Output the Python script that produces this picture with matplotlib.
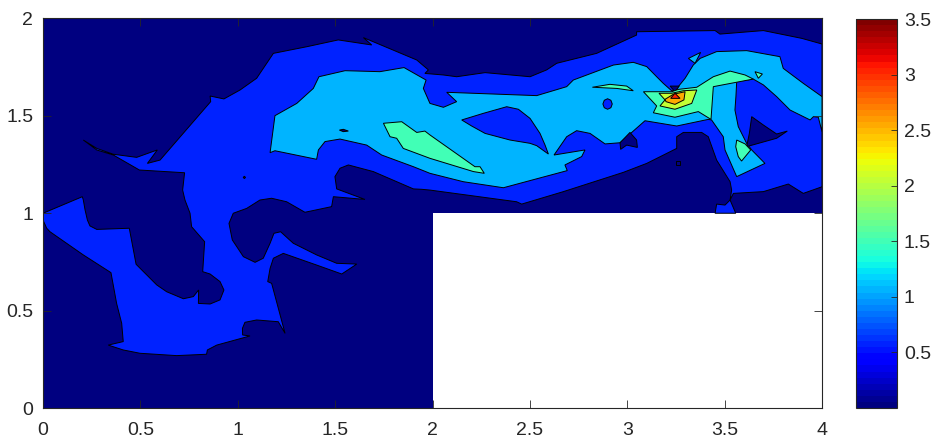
import matplotlib
matplotlib.use("Agg")
import matplotlib.pyplot as plt
from matplotlib.cm import ScalarMappable
from matplotlib.colors import Normalize

plt.rcParams["font.family"] = ["Liberation Sans", "DejaVu Sans"]

# contour outlines, in data units (x, y)
domain = [(0, 0), (2, 0), (2, 1), (4, 1), (4, 2), (0, 2)]

blue_main = [
    (0, 1), (.202, 1.085), (.207, 1.068), (.216, 1.017), (.228, .965), (.241, .935), (.276, .917),
    (.443, .923), (.478, .738), (.584, .632), (.635, .597), (.721, .561), (.772, .572), (.799, .606),
    (.798, .537), (.858, .534), (.909, .555), (.929, .606), (.909, .649), (.858, .688), (.820, .700),
    (.830, .854), (.763, .931), (.755, 1.0), (.729, 1.068), (.717, 1.119),
    (.727, 1.208), (.495, 1.222), (.361, 1.299), (.276, 1.325), (.207, 1.376), (.276, 1.333),
    (.361, 1.303), (.481, 1.287), (.587, 1.325), (.536, 1.256), (.601, 1.273), (.861, 1.573),
    (.858, 1.602), (.929, 1.587), (1.012, 1.633), (1.097, 1.693), (1.183, 1.821), (1.354, 1.855),
    (1.516, 1.890), (1.688, 1.864),
    (1.645, 1.902), (1.919, 1.787), (1.979, 1.736), (1.961, 1.718), (2.056, 1.710), (2.124, 1.701),
    (2.270, 1.722), (2.501, 1.701), (2.586, 1.736), (2.638, 1.770), (2.843, 1.821), (3.048, 1.915),
    (3.048, 1.932), (3.451, 1.938), (3.476, 1.920), (3.699, 1.938), (3.896, 1.898), (4, 1.869),
    (4, 1.136), (3.904, 1.102), (3.827, 1.150), (3.699, 1.111), (3.545, 1.102), (3.528, 1.068),
    (3.536, 1.119), (3.528, 1.162), (3.459, 1.273), (3.416, 1.393), (3.382, 1.415), (3.288, 1.415),
    (3.254, 1.393), (3.254, 1.333),
    (3.100, 1.256), (2.980, 1.210), (2.672, 1.111), (2.458, 1.047), (2.432, 1.059), (1.987, 1.119),
    (1.944, 1.123), (1.902, 1.125), (1.696, 1.214), (1.568, 1.248), (1.525, 1.231), (1.499, 1.188),
    (1.508, 1.125),
    (1.653, 1.071), (1.491, 1.085), (1.482, 1.034), (1.345, 1.005), (1.251, 1.059), (1.174, 1.077),
    (1.114, 1.068), (1.046, 1.025), (.977, 1.0), (.955, .948), (.972, .863), (1.029, .777),
    (1.089, .748), (1.131, .769), (1.166, .846), (1.186, .897), (1.220, .905), (1.285, .846),
    (1.405, .786), (1.508, .743), (1.611, .739), (1.534, .688), (1.405, .734), (1.234, .794),
    (1.183, .769), (1.166, .717),
    (1.154, .649), (1.174, .640), (1.243, .383), (1.208, .443), (1.097, .452), (1.037, .440),
    (1.024, .409), (1.025, .375), (1.063, .370), (.892, .323), (.844, .298), (.840, .276),
    (.686, .269), (.498, .281), (.412, .298), (.335, .323), (.412, .341), (.404, .435), (.378, .537),
    (.349, .695), (.207, .786), (.036, .905), (.019, .923), (0, .965),
]
blue_notch = [(3.528, 1.068), (3.502, 1.042), (3.459, 1.047), (3.451, 1.0), (3.557, 1.0)]

azure_main = [
    (1.166, 1.311), (1.191, 1.501), (1.303, 1.564), (1.388, 1.641), (1.417, 1.701), (1.551, 1.732),
    (1.730, 1.727), (1.854, 1.748), (1.967, 1.684), (1.953, 1.641), (1.979, 1.582), (1.987, 1.564),
    (2.056, 1.544), (2.124, 1.573), (2.073, 1.621), (2.535, 1.604), (2.689, 1.650), (2.723, 1.684),
    (2.929, 1.761), (3.031, 1.775), (3.100, 1.753), (3.151, 1.701), (3.185, 1.667), (3.228, 1.629),
    (3.245, 1.629), (3.297, 1.693), (3.339, 1.761), (3.374, 1.795),
    (3.459, 1.830), (3.613, 1.835), (3.784, 1.804), (3.801, 1.744), (3.904, 1.667), (4, 1.599),
    (4, 1.419), (3.981, 1.493), (3.956, 1.496), (3.939, 1.479), (3.836, 1.530), (3.767, 1.599),
    (3.699, 1.659), (3.647, 1.689), (3.562, 1.676), (3.558, 1.599), (3.553, 1.530), (3.570, 1.445),
    (3.613, 1.359), (3.639, 1.325),
    (3.707, 1.256), (3.562, 1.188), (3.502, 1.325), (3.493, 1.393), (3.433, 1.479), (3.416, 1.482),
    (3.254, 1.448), (3.091, 1.475), (2.963, 1.362), (2.886, 1.356), (2.809, 1.410), (2.740, 1.424),
    (2.689, 1.393), (2.624, 1.299), (2.783, 1.325), (2.766, 1.291), (2.680, 1.248), (2.692, 1.219),
    (2.364, 1.131), (2.158, 1.162), (1.987, 1.205), (1.902, 1.239), (1.739, 1.299), (1.662, 1.350),
    (1.525, 1.381), (1.448, 1.368), (1.414, 1.325), (1.405, 1.277), (1.191, 1.321),
]
azure_speck = [(3.314, 1.795), (3.377, 1.826), (3.348, 1.770)]

blue_lens = [(2.150, 1.479), (2.261, 1.513), (2.381, 1.547), (2.441, 1.534), (2.501, 1.487),
             (2.552, 1.410), (2.578, 1.350), (2.595, 1.304), (2.535, 1.347), (2.501, 1.359),
             (2.398, 1.376), (2.270, 1.410), (2.201, 1.448)]
blue_oval = [(2.875, 1.561), (2.882, 1.580), (2.899, 1.588), (2.916, 1.580), (2.923, 1.561),
             (2.916, 1.542), (2.899, 1.534), (2.882, 1.542)]

navy_wedge = [(2.963, 1.362), (3.014, 1.415), (3.048, 1.376), (3.052, 1.338), (2.997, 1.350), (2.966, 1.328)]
navy_fin = [(3.639, 1.496), (3.699, 1.453), (3.767, 1.407), (3.822, 1.422), (3.767, 1.385),
            (3.613, 1.342), (3.627, 1.410)]
navy_box = [(3.252, 1.246), (3.272, 1.246), (3.272, 1.266), (3.252, 1.266)]
navy_tip = [(3.220, 1.653), (3.267, 1.653), (3.245, 1.624)]
navy_dash = [(1.522, 1.427), (1.542, 1.431), (1.568, 1.422), (1.542, 1.419)]
navy_dot = [(1.028, 1.184), (1.034, 1.190), (1.040, 1.184), (1.034, 1.178)]

green_long = [(1.748, 1.462), (1.842, 1.470), (1.919, 1.415), (1.961, 1.422), (1.987, 1.402),
              (2.218, 1.239), (2.244, 1.239), (2.266, 1.205), (2.210, 1.214), (1.987, 1.282),
              (1.850, 1.333), (1.816, 1.385), (1.782, 1.393)]
green_lens = [(2.821, 1.647), (2.911, 1.662), (2.997, 1.653), (3.031, 1.629), (2.946, 1.641)]
green_peak = [(3.083, 1.624), (3.228, 1.624), (3.262, 1.636), (3.357, 1.647), (3.442, 1.701),
              (3.528, 1.730), (3.605, 1.710), (3.647, 1.689), (3.442, 1.650), (3.430, 1.482),
              (3.365, 1.522), (3.245, 1.493), (3.134, 1.516), (3.151, 1.551)]
green_speck = [(3.656, 1.727), (3.694, 1.715), (3.673, 1.693)]
green_shard = [(3.562, 1.376), (3.605, 1.356), (3.634, 1.325), (3.587, 1.268), (3.570, 1.291), (3.557, 1.342)]

yellow_peak = [(3.163, 1.616), (3.228, 1.616), (3.288, 1.629), (3.357, 1.633), (3.331, 1.564),
               (3.245, 1.534), (3.168, 1.551), (3.194, 1.582)]
orange_peak = [(3.194, 1.585), (3.237, 1.611), (3.297, 1.624), (3.291, 1.582), (3.245, 1.559), (3.199, 1.573)]
red_peak = [(3.223, 1.590), (3.245, 1.616), (3.271, 1.590)]

# colour value of each band
band_navy = 0.0
band_blue = 0.55
band_azure = 1.05
band_green = 1.48
band_yellow = 2.06
band_orange = 2.56
band_red = 3.03

# drawn low to high
regions = [
    (band_blue, blue_main), (band_blue, blue_notch),
    (band_azure, azure_main), (band_azure, azure_speck),
    (band_blue, blue_lens), (band_blue, blue_oval),
    (band_navy, navy_wedge), (band_navy, navy_fin), (band_navy, navy_box), (band_navy, navy_tip),
    (band_navy, navy_dash), (band_navy, navy_dot),
    (band_green, green_long), (band_green, green_lens), (band_green, green_peak),
    (band_green, green_speck), (band_green, green_shard),
    (band_yellow, yellow_peak), (band_orange, orange_peak), (band_red, red_peak),
]

x_ticks = [0, 0.5, 1, 1.5, 2, 2.5, 3, 3.5, 4]
y_ticks = [0, 0.5, 1, 1.5, 2]
cbar_ticks = [0.5, 1, 1.5, 2, 2.5, 3, 3.5]
c_min = 0.0
c_max = 3.5

cmap = plt.get_cmap("jet", 64)
norm = Normalize(c_min, c_max)
dark = "#262626"

fig = plt.figure(figsize=(9.43, 4.48), dpi=100)
ax = fig.add_axes([43 / 943, 40 / 448, 779 / 943, 389.5 / 448])

xs, ys = zip(*domain)
ax.fill(xs, ys, facecolor=cmap(norm(band_navy)), edgecolor="none")
for level, outline in regions:
    xs, ys = zip(*outline)
    ax.fill(xs, ys, facecolor=cmap(norm(level)), edgecolor="black", linewidth=0.7)

ax.set_xlim(0, 4)
ax.set_ylim(0, 2)
ax.set_xticks(x_ticks)
ax.set_yticks(y_ticks)
ax.set_xticklabels([f"{t:g}" for t in x_ticks])
ax.set_yticklabels([f"{t:g}" for t in y_ticks])
ax.tick_params(direction="in", top=True, right=True, length=5.5, width=0.6, color=dark,
               labelcolor=dark, labelsize=14)
ax.tick_params(axis="x", pad=10)
ax.tick_params(axis="y", pad=7)
for s in ax.spines.values():
    s.set_linewidth(0.8)
    s.set_color(dark)

cax = fig.add_axes([856 / 943, 40 / 448, 41 / 943, 389 / 448])
cbar = fig.colorbar(ScalarMappable(norm=norm, cmap=cmap), cax=cax)
cbar.set_ticks(cbar_ticks)
cbar.set_ticklabels([f"{t:g}" for t in cbar_ticks])
cbar.ax.tick_params(direction="in", length=4, width=0.6, color=dark, labelcolor=dark, labelsize=14, pad=5)
cbar.outline.set_linewidth(0.8)
cbar.outline.set_edgecolor(dark)

fig.savefig("out.png", dpi=100)
